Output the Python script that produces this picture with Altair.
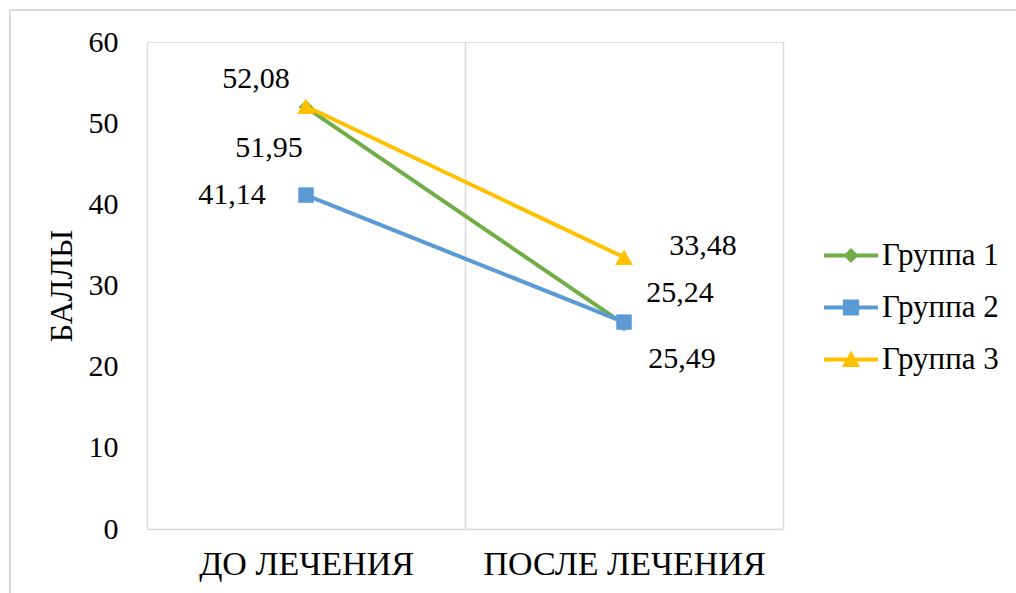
import altair as alt
import pandas as pd

# ---------------- data ----------------
categories = ["ДО ЛЕЧЕНИЯ", "ПОСЛЕ ЛЕЧЕНИЯ"]
groups = ["Группа 1", "Группа 2", "Группа 3"]
group1 = [51.95, 25.24]
group2 = [41.14, 25.49]
group3 = [52.08, 33.48]
y_ticks = [0, 10, 20, 30, 40, 50, 60]

series = [group1, group2, group3]
rows = []
for g, vals in zip(groups, series):
    for c, v in zip(categories, vals):
        rows.append({"cat": c, "group": g, "value": v,
                     "label": f"{v:.2f}".replace(".", ",")})
df = pd.DataFrame(rows)

# ---------------- styles ----------------
FONT = "Liberation Serif"
W, H = 636, 487
PAD = {"left": 147, "top": 42, "right": 233, "bottom": 64}
colors = ["#70AD47", "#5B9BD5", "#FFC000"]
marker_shapes = ["diamond", "square", "triangle-up"]
marker_sizes = [220, 240, 320]
BAR = "M-2,-0.15H2V0.15H-2Z"
legend_paths = [
    BAR + "M0,-0.56L0.56,0L0,0.56L-0.56,0Z",
    BAR + "M-0.6,-0.6H0.6V0.6H-0.6Z",
    BAR + "M0,-0.66L0.68,0.56H-0.68Z",
]
# label offsets (dx, dy) in pixels, per (group, category)
label_offsets = {
    ("Группа 1", categories[0]): (-37, 50),
    ("Группа 1", categories[1]): (56, -22),
    ("Группа 2", categories[0]): (-74, 9),
    ("Группа 2", categories[1]): (58, 46),
    ("Группа 3", categories[0]): (-50, -18),
    ("Группа 3", categories[1]): (79, -2),
}

x_enc = alt.X(
    "cat:N", sort=categories,
    scale=alt.Scale(type="band", paddingInner=0, paddingOuter=0),
    axis=alt.Axis(title=None, tickBand="extent", grid=True, gridColor="#d9d9d9",
                  gridWidth=1.5, domainColor="#d9d9d9", domainWidth=1.5, ticks=False,
                  labelAngle=0, labelFont=FONT, labelFontSize=34, labelColor="black",
                  labelPadding=18, labelLimit=600),
)
y_enc = alt.Y(
    "value:Q", scale=alt.Scale(domain=[0, 60], nice=False, zero=True),
    axis=alt.Axis(values=y_ticks, title="БАЛЛЫ", grid=False, domain=False, ticks=False,
                  labelFont=FONT, labelFontSize=30, labelColor="black", labelPadding=29,
                  titleFont=FONT, titleFontSize=32, titleFontWeight="normal",
                  titleColor="black", titleX=-86, titleY=H / 2, titleAngle=270,
                  titleBaseline="middle", titleAlign="center"),
)

base = alt.Chart(df)

layers = []
# lines, one layer per series (drawn in series order)
for g, col in zip(groups, colors):
    layers.append(
        base.transform_filter(alt.datum.group == g)
        .mark_line(strokeWidth=4, color=col)
        .encode(x=x_enc, y=y_enc)
    )
# markers
for g, col, shp, sz in zip(groups, colors, marker_shapes, marker_sizes):
    layers.append(
        base.transform_filter(alt.datum.group == g)
        .mark_point(shape=shp, size=sz, filled=True, opacity=1, strokeWidth=0, color=col)
        .encode(x=x_enc, y=y_enc)
    )
# data labels
for (g, c), (dx, dy) in label_offsets.items():
    layers.append(
        base.transform_filter((alt.datum.group == g) & (alt.datum.cat == c))
        .mark_text(dx=dx, dy=dy, align="center", baseline="alphabetic",
                   font=FONT, fontSize=30, color="black")
        .encode(x=x_enc, y=y_enc, text="label:N")
    )

# legend-only layer (invisible marks); legend symbols = line + marker
leg = alt.Legend(title=None, orient="none", legendX=688.5, legendY=198,
                 symbolSize=729, symbolStrokeWidth=0, symbolOpacity=1,
                 labelFont=FONT, labelFontSize=31, labelColor="black",
                 labelOffset=15.5, rowPadding=20, padding=0, labelLimit=300)
legend_layer = base.mark_point(filled=True, strokeWidth=0, opacity=0).encode(
    x=x_enc, y=y_enc,
    fill=alt.Fill("group:N", scale=alt.Scale(domain=groups, range=colors), legend=leg),
    shape=alt.Shape("group:N", scale=alt.Scale(domain=groups, range=legend_paths), legend=leg),
)
layers.append(legend_layer)

# chart-area frame (left and top edges visible in the reference)
frame_df = pd.DataFrame({"k": [0]})
frame_left = alt.Chart(frame_df).mark_rule(color="#d9d9d9", strokeWidth=2).encode(
    x=alt.value(-137), y=alt.value(-32), y2=alt.value(H + 80))
frame_top = alt.Chart(frame_df).mark_rule(color="#d9d9d9", strokeWidth=2).encode(
    x=alt.value(-137), x2=alt.value(W + 250), y=alt.value(-32))
layers += [frame_left, frame_top]

chart = alt.layer(*layers).properties(
    width=W, height=H, padding=PAD,
    autosize=alt.AutoSizeParams(type="none"),
).configure_view(stroke=None).configure(background="white")

chart.save("out.html", embed_options={"renderer": "svg", "actions": False})
